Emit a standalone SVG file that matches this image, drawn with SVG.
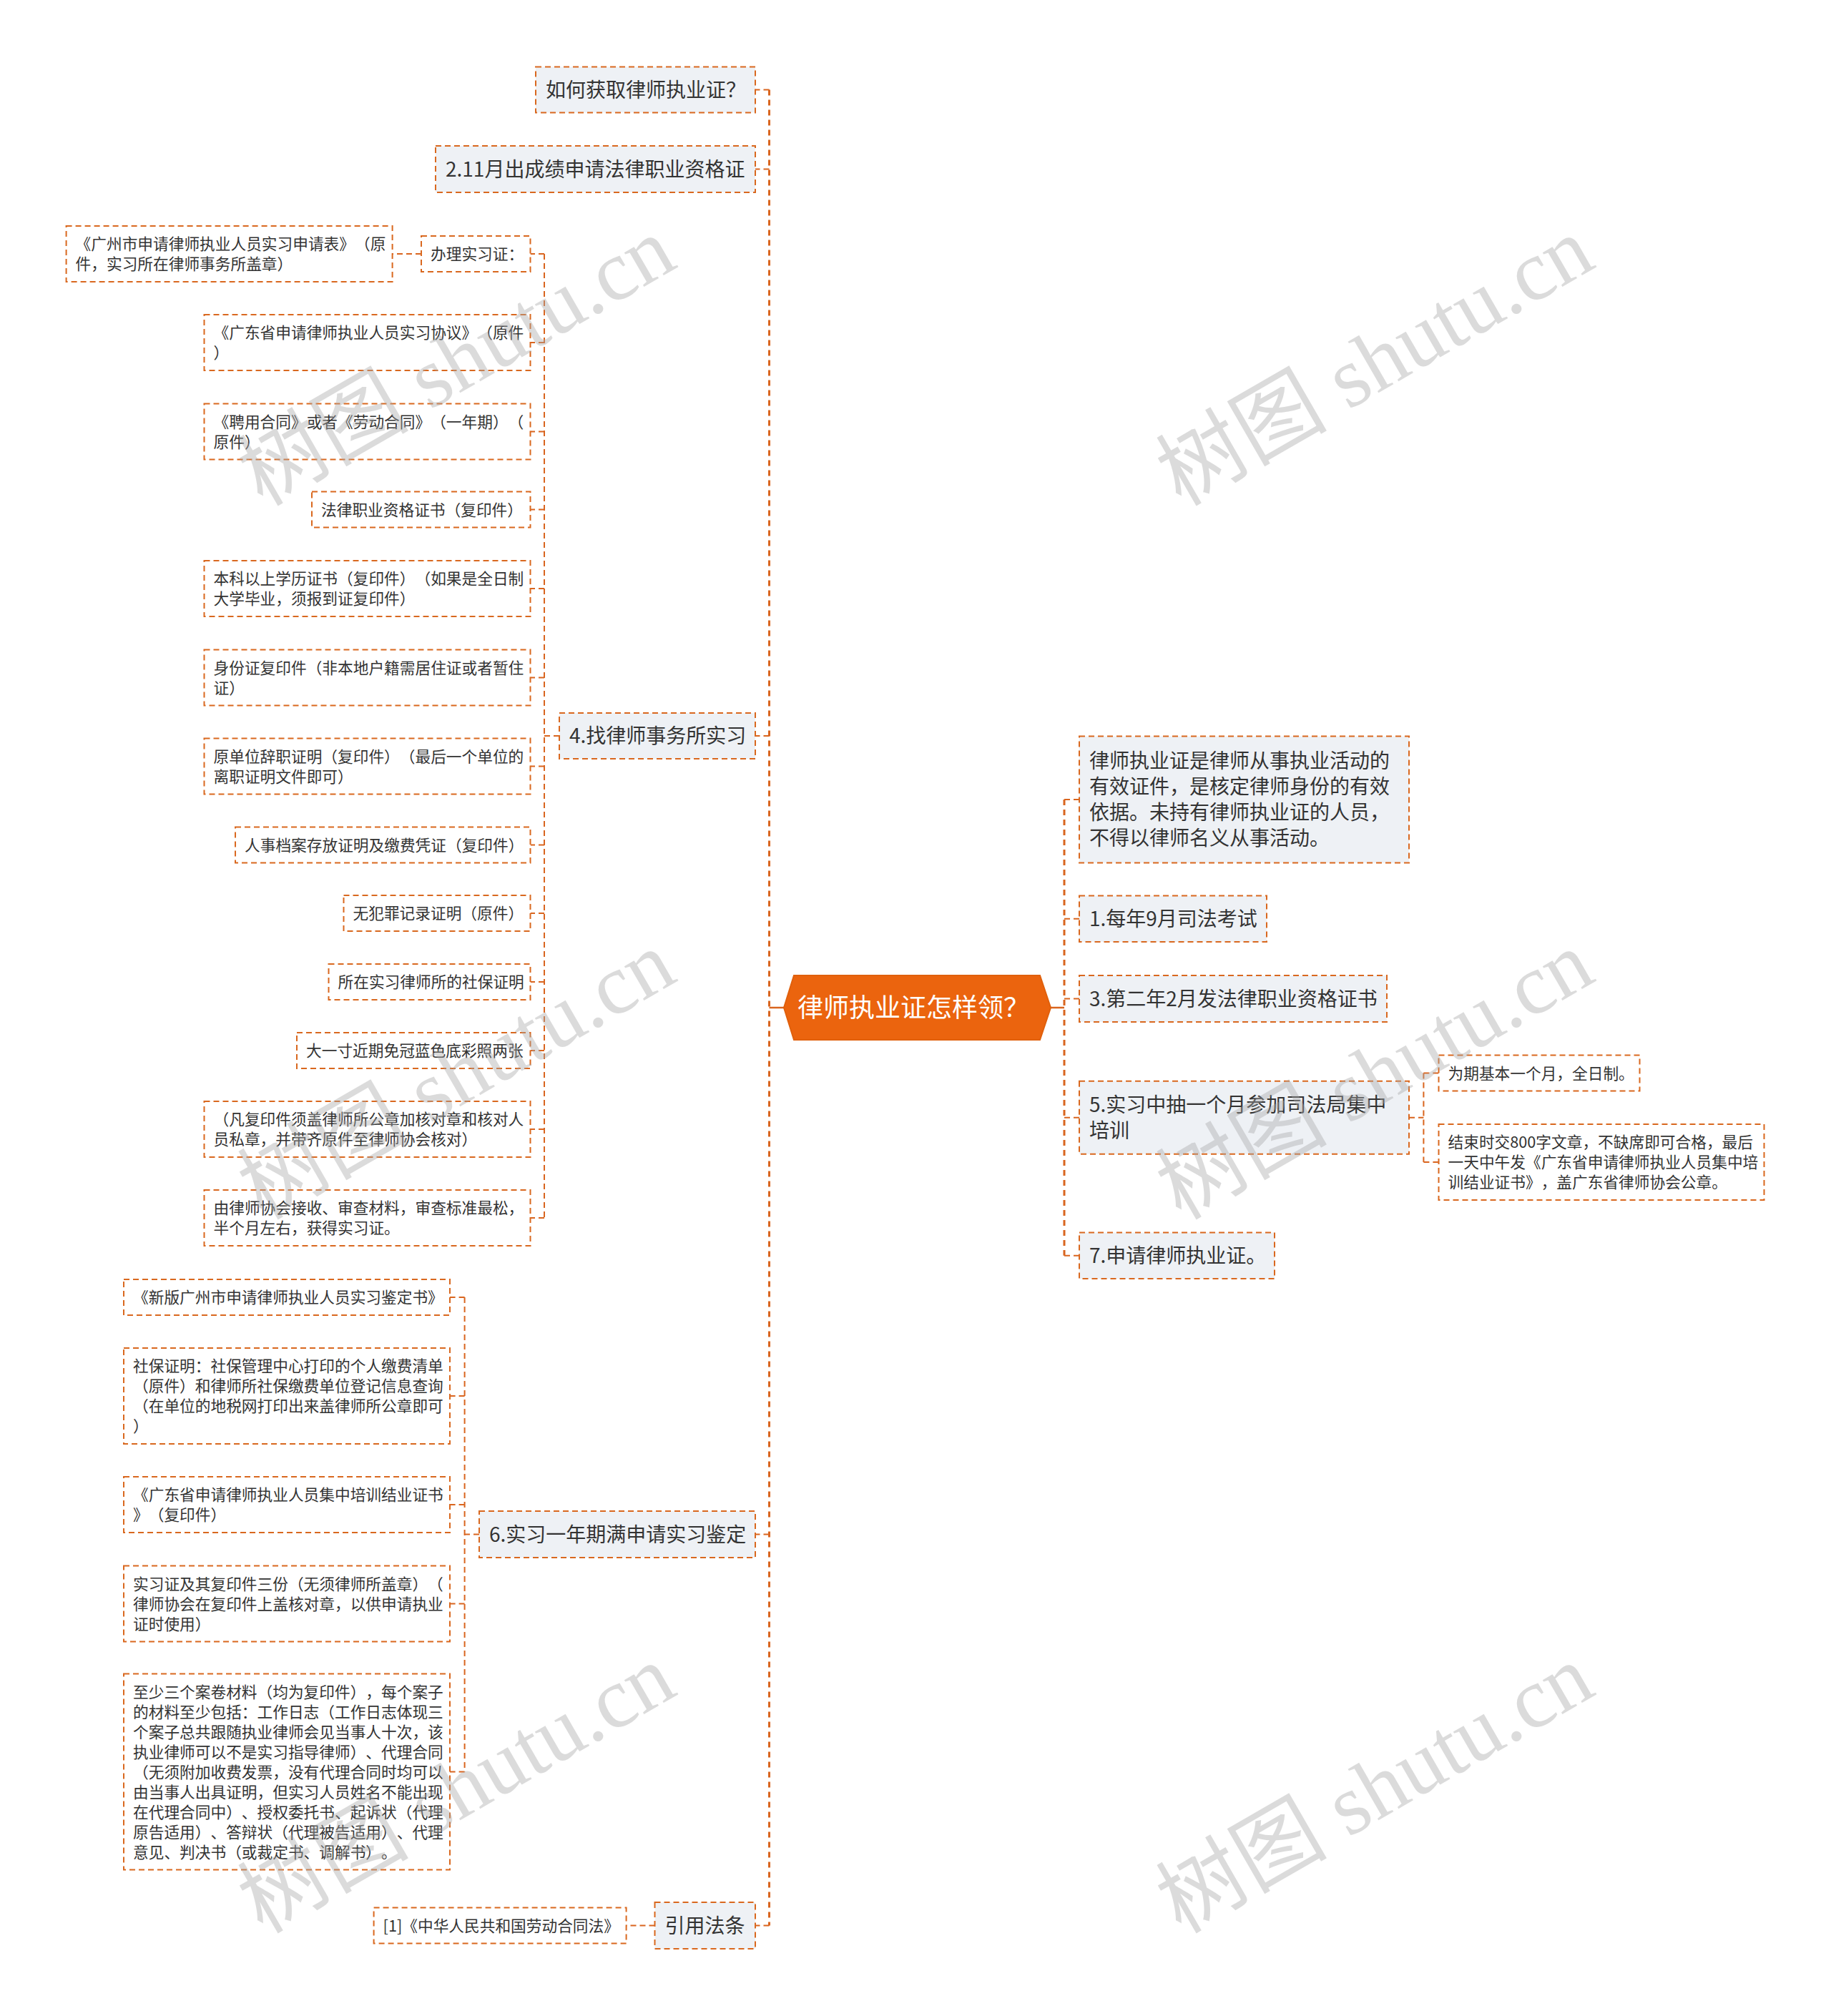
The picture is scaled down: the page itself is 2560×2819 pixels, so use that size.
<svg xmlns="http://www.w3.org/2000/svg" width="2560" height="2819" viewBox="0 0 2560 2819">
<style>
.bg{fill:#ffffff}
text{text-spacing-trim:space-all;font-feature-settings:"chws" 0,"halt" 0}
.l1 rect{fill:#eef1f5;stroke:#d9681f;stroke-width:2;stroke-dasharray:8 5}
.l3 rect{fill:#ffffff;stroke:#d9681f;stroke-width:2;stroke-dasharray:8 5}
.l1 text{font-family:"Noto Sans CJK SC","Noto Sans",sans-serif;font-size:28px;fill:#333333}
.l3 text{font-family:"Noto Sans CJK SC","Noto Sans",sans-serif;font-size:21.7px;fill:#333333}
.root text{font-family:"Noto Sans CJK SC","Noto Sans",sans-serif;font-size:36px;fill:#ffffff}
.conn path{fill:none;stroke:#d9651f;stroke-width:2;stroke-dasharray:8 5}
.conn path.trunk{stroke-width:3;stroke-dasharray:8 6}
.conn path.solid{stroke-dasharray:none;stroke-width:2.5}
.wm text{font-family:"Liberation Serif","Noto Sans CJK SC",serif;font-size:120px;fill:#a8a8a8;opacity:0.4}
</style>
<rect class="bg" x="0" y="0" width="2560" height="2819"/>

<g id="connectors" class="conn">
  <path class="solid" d="M1096,1409 H1075.5"/>
  <path class="solid" d="M1469,1409 H1488"/>
  <path class="trunk" d="M1075.5,125.5 V2692.5"/>
  <path d="M1075.5,125.5 H1056"/>
  <path d="M1075.5,236.5 H1056"/>
  <path d="M1075.5,1029 H1056"/>
  <path d="M1075.5,2145.5 H1056"/>
  <path d="M1075.5,2692.5 H1056"/>
  <path class="trunk" d="M1488,1118 V1755.75"/>
  <path d="M1488,1118 H1509"/>
  <path d="M1488,1284.75 H1509"/>
  <path d="M1488,1396.5 H1509"/>
  <path d="M1488,1562.7 H1509"/>
  <path d="M1488,1755.75 H1509"/>
  <path d="M782,1029 H761"/>
  <path d="M761,355 V1703"/>
  <path d="M761,355 H741.5"/>
  <path d="M761,479 H741.5"/>
  <path d="M761,603.5 H741.5"/>
  <path d="M761,712.5 H741.5"/>
  <path d="M761,823 H741.5"/>
  <path d="M761,947.5 H741.5"/>
  <path d="M761,1071.5 H741.5"/>
  <path d="M761,1181.5 H741.5"/>
  <path d="M761,1277 H741.5"/>
  <path d="M761,1373 H741.5"/>
  <path d="M761,1469 H741.5"/>
  <path d="M761,1579 H741.5"/>
  <path d="M761,1703 H741.5"/>
  <path d="M589,355 H548.6"/>
  <path d="M670,2145.5 H649.6"/>
  <path d="M649.6,1814 V2477.5"/>
  <path d="M649.6,1814 H629"/>
  <path d="M649.6,1952 H629"/>
  <path d="M649.6,2104 H629"/>
  <path d="M649.6,2242.5 H629"/>
  <path d="M649.6,2477.5 H629"/>
  <path d="M1970,1562.7 H1990.4"/>
  <path d="M1990.4,1500.5 V1625"/>
  <path d="M1990.4,1500.5 H2011.5"/>
  <path d="M1990.4,1625 H2011.5"/>
  <path d="M915.5,2692.5 H875.6"/>
</g>

<g id="root" class="root">
  <polygon points="1110,1364 1454,1364 1469,1409 1454,1454 1110,1454 1096,1409" fill="#eb640e" stroke="#e0600c" stroke-width="2"/>
  <text x="1115" y="1422">律师执业证怎样领？</text>
</g>

<g id="n_q" class="l1"><rect x="749" y="93.5" width="307" height="64"/><text x="763" y="135.5">如何获取律师执业证？</text></g>
<g id="n_2" class="l1"><rect x="609" y="204" width="447" height="65"/><text x="623" y="246.5">2.11月出成绩申请法律职业资格证</text></g>
<g id="n_4" class="l1"><rect x="782" y="997" width="274" height="64"/><text x="796" y="1039">4.找律师事务所实习</text></g>
<g id="n_6" class="l1"><rect x="670" y="2113" width="386" height="65"/><text x="684" y="2155.5">6.实习一年期满申请实习鉴定</text></g>
<g id="n_law" class="l1"><rect x="915.5" y="2660" width="140.5" height="65"/><text x="929.5" y="2702.5">引用法条</text></g>
<g id="n_def" class="l1"><rect x="1509" y="1029.6" width="461" height="177"/>
  <text x="1523" y="1074">律师执业证是律师从事执业活动的</text>
  <text x="1523" y="1110">有效证件，是核定律师身份的有效</text>
  <text x="1523" y="1146">依据。未持有律师执业证的人员，</text>
  <text x="1523" y="1182">不得以律师名义从事活动。</text></g>
<g id="n_1" class="l1"><rect x="1509" y="1252.5" width="262" height="64.5"/><text x="1523" y="1295">1.每年9月司法考试</text></g>
<g id="n_3" class="l1"><rect x="1509" y="1364" width="430" height="65"/><text x="1523" y="1406.5">3.第二年2月发法律职业资格证书</text></g>
<g id="n_5" class="l1"><rect x="1509" y="1511.7" width="461" height="102"/>
  <text x="1523" y="1555">5.实习中抽一个月参加司法局集中</text>
  <text x="1523" y="1591">培训</text></g>
<g id="n_7" class="l1"><rect x="1509" y="1723.5" width="273" height="64.5"/><text x="1523" y="1766">7.申请律师执业证。</text></g>

<g id="a0" class="l3"><rect x="92.6" y="316" width="456" height="78"/>
  <text x="105.6" y="349">《广州市申请律师执业人员实习申请表》（原</text>
  <text x="105.6" y="377">件，实习所在律师事务所盖章）</text></g>
<g id="a1" class="l3"><rect x="589" y="330" width="152.5" height="50"/><text x="602" y="363">办理实习证：</text></g>
<g id="a2" class="l3"><rect x="285.5" y="440" width="456" height="78"/>
  <text x="298.5" y="473">《广东省申请律师执业人员实习协议》（原件</text>
  <text x="298.5" y="501">）</text></g>
<g id="a3" class="l3"><rect x="285.5" y="564.5" width="456" height="78"/>
  <text x="298.5" y="597.5">《聘用合同》或者《劳动合同》（一年期）（</text>
  <text x="298.5" y="625.5">原件）</text></g>
<g id="a4" class="l3"><rect x="436" y="687.5" width="305.5" height="50"/><text x="449" y="720.5">法律职业资格证书（复印件）</text></g>
<g id="a5" class="l3"><rect x="285.5" y="784" width="456" height="78"/>
  <text x="298.5" y="817">本科以上学历证书（复印件）（如果是全日制</text>
  <text x="298.5" y="845">大学毕业，须报到证复印件）</text></g>
<g id="a6" class="l3"><rect x="285.5" y="908.5" width="456" height="78"/>
  <text x="298.5" y="941.5">身份证复印件（非本地户籍需居住证或者暂住</text>
  <text x="298.5" y="969.5">证）</text></g>
<g id="a7" class="l3"><rect x="285.5" y="1032.5" width="456" height="78"/>
  <text x="298.5" y="1065.5">原单位辞职证明（复印件）（最后一个单位的</text>
  <text x="298.5" y="1093.5">离职证明文件即可）</text></g>
<g id="a8" class="l3"><rect x="329" y="1156.5" width="412.5" height="50"/><text x="342" y="1189.5">人事档案存放证明及缴费凭证（复印件）</text></g>
<g id="a9" class="l3"><rect x="480.5" y="1252" width="261" height="50"/><text x="493.5" y="1285">无犯罪记录证明（原件）</text></g>
<g id="a10" class="l3"><rect x="459.5" y="1348" width="282" height="50"/><text x="472.5" y="1381">所在实习律师所的社保证明</text></g>
<g id="a11" class="l3"><rect x="415" y="1444" width="326.5" height="50"/><text x="428" y="1477">大一寸近期免冠蓝色底彩照两张</text></g>
<g id="a12" class="l3"><rect x="285.5" y="1540" width="456" height="78"/>
  <text x="298.5" y="1573">（凡复印件须盖律师所公章加核对章和核对人</text>
  <text x="298.5" y="1601">员私章，并带齐原件至律师协会核对）</text></g>
<g id="a13" class="l3"><rect x="285.5" y="1664" width="456" height="78"/>
  <text x="298.5" y="1697">由律师协会接收、审查材料，审查标准最松，</text>
  <text x="298.5" y="1725">半个月左右，获得实习证。</text></g>

<g id="b0" class="l3"><rect x="173" y="1789" width="456" height="50"/><text x="186" y="1822">《新版广州市申请律师执业人员实习鉴定书》</text></g>
<g id="b1" class="l3"><rect x="173" y="1885" width="456" height="134"/>
  <text x="186" y="1918">社保证明：社保管理中心打印的个人缴费清单</text>
  <text x="186" y="1946">（原件）和律师所社保缴费单位登记信息查询</text>
  <text x="186" y="1974">（在单位的地税网打印出来盖律师所公章即可</text>
  <text x="186" y="2002">）</text></g>
<g id="b2" class="l3"><rect x="173" y="2065" width="456" height="78"/>
  <text x="186" y="2098">《广东省申请律师执业人员集中培训结业证书</text>
  <text x="186" y="2126">》（复印件）</text></g>
<g id="b3" class="l3"><rect x="173" y="2189.5" width="456" height="106"/>
  <text x="186" y="2222.5">实习证及其复印件三份（无须律师所盖章）（</text>
  <text x="186" y="2250.5">律师协会在复印件上盖核对章，以供申请执业</text>
  <text x="186" y="2278.5">证时使用）</text></g>
<g id="b4" class="l3"><rect x="173" y="2340.5" width="456" height="274"/>
  <text x="186" y="2373.5">至少三个案卷材料（均为复印件），每个案子</text>
  <text x="186" y="2401.5">的材料至少包括：工作日志（工作日志体现三</text>
  <text x="186" y="2429.5">个案子总共跟随执业律师会见当事人十次，该</text>
  <text x="186" y="2457.5">执业律师可以不是实习指导律师）、代理合同</text>
  <text x="186" y="2485.5">（无须附加收费发票，没有代理合同时均可以</text>
  <text x="186" y="2513.5">由当事人出具证明，但实习人员姓名不能出现</text>
  <text x="186" y="2541.5">在代理合同中）、授权委托书、起诉状（代理</text>
  <text x="186" y="2569.5">原告适用）、答辩状（代理被告适用）、代理</text>
  <text x="186" y="2597.5">意见、判决书（或裁定书、调解书）。</text></g>

<g id="c0" class="l3"><rect x="2011.5" y="1475.5" width="281" height="50"/><text x="2024.5" y="1508.5">为期基本一个月，全日制。</text></g>
<g id="c1" class="l3"><rect x="2011.5" y="1572" width="455" height="106"/>
  <text x="2024.5" y="1605">结束时交800字文章，不缺席即可合格，最后</text>
  <text x="2024.5" y="1633">一天中午发《广东省申请律师执业人员集中培</text>
  <text x="2024.5" y="1661">训结业证书》，盖广东省律师协会公章。</text></g>

<g id="law1" class="l3"><rect x="522.6" y="2667.5" width="353" height="50"/><text x="535.6" y="2700.5">[1]《中华人民共和国劳动合同法》</text></g>

<g id="watermarks" class="wm">
  <text x="642" y="545" text-anchor="middle" transform="rotate(-30 642 512)">树图 shutu.cn</text>
  <text x="642" y="1543" text-anchor="middle" transform="rotate(-30 642 1510)">树图 shutu.cn</text>
  <text x="642" y="2541" text-anchor="middle" transform="rotate(-30 642 2508)">树图 shutu.cn</text>
  <text x="1926" y="545" text-anchor="middle" transform="rotate(-30 1926 512)">树图 shutu.cn</text>
  <text x="1926" y="1543" text-anchor="middle" transform="rotate(-30 1926 1510)">树图 shutu.cn</text>
  <text x="1926" y="2541" text-anchor="middle" transform="rotate(-30 1926 2508)">树图 shutu.cn</text>
</g>
</svg>
